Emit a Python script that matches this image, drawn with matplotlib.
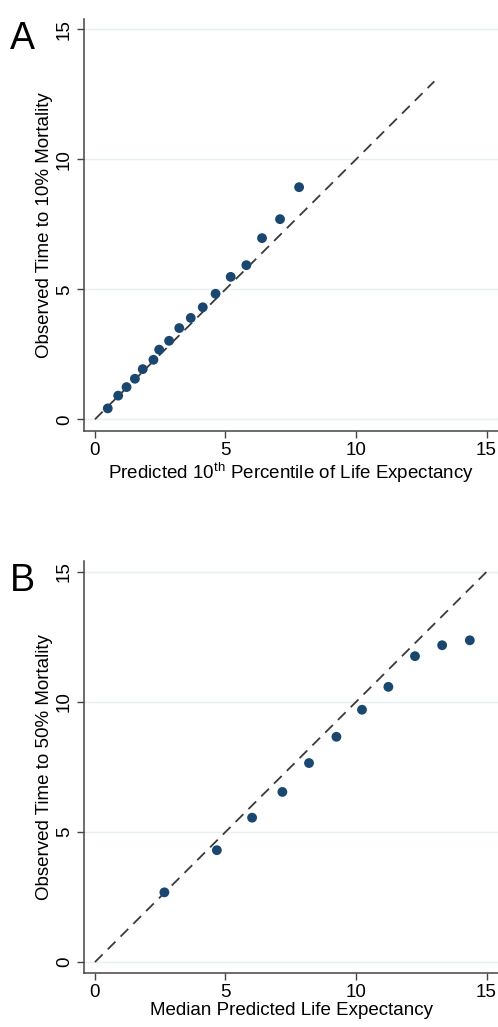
import numpy as np
import matplotlib.pyplot as plt

plt.rcParams['font.family'] = ['Liberation Sans', 'DejaVu Sans']

# Panel A: predicted 10th percentile vs observed time to 10% mortality
pred_a = [0.49, 0.89, 1.21, 1.53, 1.83, 2.24, 2.46, 2.84, 3.23, 3.67, 4.13,
          4.62, 5.20, 5.80, 6.40, 7.09, 7.82]
obs_a = [0.42, 0.91, 1.24, 1.56, 1.93, 2.29, 2.68, 3.02, 3.51, 3.90, 4.31,
         4.83, 5.48, 5.93, 6.97, 7.70, 8.93]
ref_a = [0, 13]

# Panel B: median predicted life expectancy vs observed time to 50% mortality
pred_b = [2.66, 4.67, 6.02, 7.18, 8.20, 9.25, 10.23, 11.24, 12.26, 13.30, 14.36]
obs_b = [2.68, 4.30, 5.55, 6.54, 7.65, 8.66, 9.70, 10.58, 11.76, 12.18, 12.37]
ref_b = [0, 15]

ticks = [0, 5, 10, 15]
navy = '#1a476f'
W, H = 498, 1027

fig = plt.figure(figsize=(W / 100, H / 100), dpi=100)


def make_panel(rect, x, y, ref, xlabel, ylabel, letter, ylim):
    ax = fig.add_axes(rect)
    ax.set_xlim(-0.42, 15.44)
    ax.set_ylim(*ylim)
    for t in ticks:
        ax.axhline(t, color='#e6eff2', lw=1.0, zorder=0)
    ax.plot(ref, ref, color='#3a3a3a', lw=1.3, ls=(0, (6, 4)), zorder=2)
    ax.scatter(x, y, s=50, color=navy, edgecolors='none', zorder=3)
    for s in ['top', 'right']:
        ax.spines[s].set_visible(False)
    for s in ['left', 'bottom']:
        ax.spines[s].set_color('#444444')
        ax.spines[s].set_linewidth(1.1)
    ax.set_xticks(ticks)
    ax.set_yticks(ticks)
    ax.tick_params(axis='both', length=5, width=1.0, color='#444444',
                   labelsize=13.5, pad=3)
    plt.setp(ax.get_yticklabels(), rotation=90, va='center')
    ax.set_xlabel(xlabel, fontsize=13.5, labelpad=1)
    ax.set_ylabel(ylabel, fontsize=13.5, labelpad=2)
    fig.text(rect[0] - 0.148, rect[1] + rect[3] - 0.002, letter,
             fontsize=27, va='top', ha='left')
    return ax


make_panel([84 / W, 1 - 431 / H, (W - 84) / W, 412 / H], pred_a, obs_a, ref_a,
           r'Predicted 10$^{\mathregular{th}}$ Percentile of Life Expectancy',
           'Observed Time to 10% Mortality', 'A', (-0.45, 15.40))
make_panel([84 / W, 1 - 972.7 / H, (W - 84) / W, 412 / H], pred_b, obs_b, ref_b,
           'Median Predicted Life Expectancy',
           'Observed Time to 50% Mortality', 'B', (-0.41, 15.43))

fig.savefig('out.png', dpi=100, facecolor='white')
